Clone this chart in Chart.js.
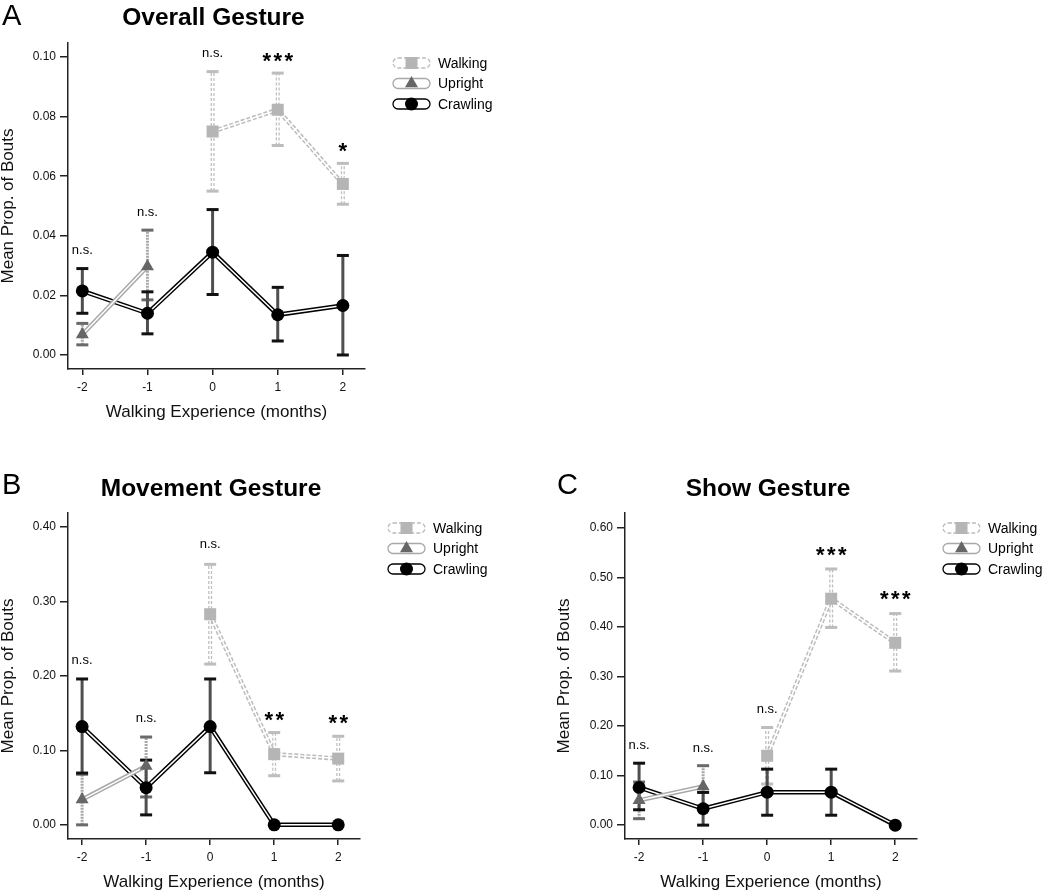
<!DOCTYPE html>
<html>
<head>
<meta charset="utf-8">
<script src="https://cdn.jsdelivr.net/npm/chart.js@4.4.1/dist/chart.umd.min.js"></script>
<style>
  html, body { margin: 0; padding: 0; background: #fff; }
  #page { position: relative; width: 1050px; height: 892px; overflow: hidden; background: #fff; }
  canvas { position: absolute; }
</style>
</head>
<body>
<div id="page">
  <canvas id="chartA" width="525" height="421" style="left:0;top:0"></canvas>
  <canvas id="chartB" width="525" height="431" style="left:0;top:460px"></canvas>
  <canvas id="chartC" width="494" height="431" style="left:556px;top:460px"></canvas>
</div>
<script>
const FONT = '"Liberation Sans", Arial, Helvetica, sans-serif';

// months of walking experience
const months = [-2, -1, 0, 1, 2];
const walkMonths = [0, 1, 2];
const uprightMonths = [-2, -1];
const xTicks = [-2, -1, 0, 1, 2];
const seriesNames = ['Walking', 'Upright', 'Crawling'];

// A: Overall Gesture
const overallWalking = [0.0750, 0.0823, 0.0574];
const overallWalkingLo = [0.0550, 0.0703, 0.0506];
const overallWalkingHi = [0.0951, 0.0946, 0.0643];
const overallUpright = [0.0069, 0.0297];
const overallUprightLo = [0.0034, 0.0185];
const overallUprightHi = [0.0106, 0.0419];
const overallCrawling = [0.0215, 0.0140, 0.0345, 0.0135, 0.0166];
const overallCrawlingLo = [0.0140, 0.0071, 0.0203, 0.0047, 0.0000];
const overallCrawlingHi = [0.0290, 0.0212, 0.0488, 0.0227, 0.0334];
const overallTicks = [0, 0.02, 0.04, 0.06, 0.08, 0.10];
const overallSig = ['n.s.', 'n.s.', 'n.s.', '***', '*'];
const overallSigY = [0.0352, 0.048, 0.1012, 0.1001, 0.0699];

// B: Movement Gesture
const movementWalking = [0.283, 0.095, 0.089];
const movementWalkingLo = [0.216, 0.066, 0.059];
const movementWalkingHi = [0.350, 0.124, 0.119];
const movementUpright = [0.034, 0.079];
const movementUprightLo = [0.000, 0.0375];
const movementUprightHi = [0.068, 0.118];
const movementCrawling = [0.132, 0.050, 0.132, 0.000, 0.000];
const movementCrawlingLo = [0.0696, 0.0134, 0.070, null, null];
const movementCrawlingHi = [0.196, 0.087, 0.196, null, null];
const movementTicks = [0, 0.10, 0.20, 0.30, 0.40];
const movementSig = ['n.s.', 'n.s.', 'n.s.', '**', '**'];
const movementSigY = [0.2215, 0.143, 0.3767, 0.1467, 0.142];

// C: Show Gesture
const showWalking = [0.140, 0.457, 0.368];
const showWalkingLo = [0.083, 0.399, 0.311];
const showWalkingHi = [0.197, 0.517, 0.427];
const showUpright = [0.050, 0.078];
const showUprightLo = [0.013, 0.038];
const showUprightHi = [0.087, 0.120];
const showCrawling = [0.076, 0.033, 0.0665, 0.0665, 0.000];
const showCrawlingLo = [0.031, 0.000, 0.020, 0.020, null];
const showCrawlingHi = [0.125, 0.066, 0.113, 0.113, null];
const showTicks = [0, 0.10, 0.20, 0.30, 0.40, 0.50, 0.60];
const showSig = ['n.s.', 'n.s.', 'n.s.', '***', '***'];
const showSigY = [0.1616, 0.155, 0.2337, 0.5535, 0.4646];

// look of each series
const styles = {
  Walking:  { marker: 'rect', radius: 8.5, fill: '#b5b5b5', line: '#bcbcbc', dash: [4, 2],
              stem: '#c0c0c0', stemDash: [3, 2], stemDouble: true, cap: '#bdbdbd' },
  Upright:  { marker: 'triangle', radius: 7.5, fill: '#666666', line: '#a8a8a8', dash: [],
              stem: '#a9a9a9', stemDash: [2, 1], stemDouble: false, cap: '#6a6a6a' },
  Crawling: { marker: 'circle', radius: 6.5, fill: '#000000', line: '#000000', dash: [],
              stem: '#4f4f4f', stemDash: [], stemDouble: false, cap: '#111111' }
};

function pts(xs, ys) {
  return xs.map((x, i) => ({ x: x, y: ys[i] }));
}

function drawErrorBars(chart, p) {
  const ctx = chart.ctx, xs = chart.scales.x, ys = chart.scales.y;
  ctx.save();
  p.series.forEach(s => {
    const st = styles[s.name];
    s.x.forEach((xv, i) => {
      if (s.lo[i] == null) return;
      const px = xs.getPixelForValue(xv);
      const yLo = ys.getPixelForValue(s.lo[i]);
      const yHi = ys.getPixelForValue(s.hi[i]);
      ctx.lineCap = 'butt';
      ctx.strokeStyle = st.stem;
      ctx.lineWidth = st.stemDouble ? 4 : 3;
      ctx.setLineDash(st.stemDash);
      ctx.beginPath(); ctx.moveTo(px, yLo); ctx.lineTo(px, yHi); ctx.stroke();
      if (st.stemDouble) {
        ctx.setLineDash([]);
        ctx.strokeStyle = '#ffffff';
        ctx.lineWidth = 1.4;
        ctx.beginPath(); ctx.moveTo(px, yLo); ctx.lineTo(px, yHi); ctx.stroke();
      }
      ctx.setLineDash([]);
      ctx.strokeStyle = st.cap;
      ctx.lineWidth = 3;
      [yLo, yHi].forEach(y => {
        ctx.beginPath(); ctx.moveTo(px - 6, y); ctx.lineTo(px + 6, y); ctx.stroke();
      });
    });
  });
  ctx.restore();
}

function drawSig(chart, p) {
  const ctx = chart.ctx, xs = chart.scales.x, ys = chart.scales.y;
  ctx.save();
  ctx.fillStyle = '#000';
  ctx.textAlign = 'center';
  ctx.textBaseline = 'middle';
  months.forEach((m, i) => {
    const label = p.sig[i];
    const px = xs.getPixelForValue(m);
    const py = ys.getPixelForValue(p.sigY[i]);
    if (label.charAt(0) === '*') {
      ctx.font = 'bold 22px ' + FONT;
      const n = label.length;
      for (let k = 0; k < n; k++) {
        ctx.fillText('*', px + (k - (n - 1) / 2) * 11, py + 5);
      }
    } else {
      ctx.font = '13px ' + FONT;
      ctx.fillText(label, px, py);
    }
  });
  ctx.restore();
}

function drawMarker(ctx, name, x, y) {
  const st = styles[name];
  Chart.helpers.drawPoint(ctx, { pointStyle: st.marker, radius: st.radius, borderWidth: 0, rotation: 0 }, x, y);
}

function drawLegend(chart, p) {
  const ctx = chart.ctx;
  ctx.save();
  seriesNames.forEach((name, i) => {
    const st = styles[name];
    const y = p.legendY + i * 20.5;
    const x0 = p.legendX;
    ctx.beginPath();
    ctx.roundRect(x0, y - 5, 37, 10, 5);
    ctx.lineWidth = 1.3;
    ctx.strokeStyle = st.line;
    ctx.setLineDash(st.dash);
    ctx.stroke();
    ctx.setLineDash([]);
    ctx.fillStyle = st.fill;
    ctx.strokeStyle = st.fill;
    drawMarker(ctx, name, x0 + 18.5, y);
    ctx.fillStyle = '#000';
    ctx.font = '14px ' + FONT;
    ctx.textAlign = 'left';
    ctx.textBaseline = 'middle';
    ctx.fillText(name, x0 + 45, y + 1);
  });
  ctx.restore();
}

function drawHeader(chart, p) {
  const ctx = chart.ctx, area = chart.chartArea;
  ctx.save();
  ctx.fillStyle = '#000';
  ctx.textBaseline = 'middle';
  ctx.textAlign = 'left';
  ctx.font = '29px ' + FONT;
  ctx.fillText(p.letter, p.letterX, p.letterY);
  ctx.textAlign = 'center';
  ctx.font = 'bold 24.5px ' + FONT;
  ctx.fillText(p.title, (area.left + area.right) / 2 - 3, p.titleY);
  ctx.restore();
}

function makePanel(p) {
  const datasets = [];
  const lineOrder = { Walking: 3, Upright: 5, Crawling: 7 };
  p.series.forEach((s, k) => {
    const st = styles[s.name];
    datasets.push({
      label: s.name, data: pts(s.x, s.y), showLine: false, order: k,
      pointStyle: st.marker, pointRadius: st.radius, pointBackgroundColor: st.fill,
      pointBorderColor: st.fill, pointBorderWidth: 0
    });
    datasets.push({
      label: s.name + ' inner', data: pts(s.x, s.y), order: lineOrder[s.name],
      borderColor: '#ffffff', borderWidth: 1.5, pointRadius: 0, tension: 0,
      borderJoinStyle: 'miter'
    });
    datasets.push({
      label: s.name + ' outline', data: pts(s.x, s.y), order: lineOrder[s.name] + 1,
      borderColor: st.line, borderWidth: 4.5, borderDash: st.dash, pointRadius: 0, tension: 0,
      borderJoinStyle: 'miter'
    });
  });

  const axisFont = { family: FONT, size: 12 };
  const titleFont = { family: FONT, size: 17, lineHeight: 1 };

  return new Chart(document.getElementById(p.canvas), {
    type: 'line',
    data: { datasets: datasets },
    options: {
      responsive: false,
      animation: false,
      events: [],
      layout: { padding: { left: 0, top: p.chartTop, right: p.rightPad, bottom: 0 } },
      plugins: { legend: { display: false }, tooltip: { enabled: false } },
      scales: {
        x: {
          type: 'linear', min: -2.22, max: 2.34,
          afterBuildTicks: s => { s.ticks = xTicks.map(v => ({ value: v })); },
          afterFit: s => { s.height = p.xAxisHeight; },
          grid: { drawOnChartArea: false, drawTicks: true, tickLength: 6, color: '#222', lineWidth: 1.5 },
          border: { display: true, color: '#222', width: 1.5 },
          ticks: { callback: v => String(v), font: axisFont, color: '#111', padding: 5, maxRotation: 0 },
          title: { display: true, text: 'Walking Experience (months)', font: titleFont, color: '#111', padding: 0 }
        },
        y: {
          type: 'linear', min: p.yMin, max: p.yMax,
          afterBuildTicks: s => { s.ticks = p.yTicks.map(v => ({ value: v })); },
          afterFit: s => { s.width = p.yAxisWidth; },
          grid: { drawOnChartArea: false, drawTicks: true, tickLength: 8, color: '#222', lineWidth: 1.5 },
          border: { display: true, color: '#222', width: 1.5 },
          ticks: { callback: v => v.toFixed(2), font: axisFont, color: '#111', padding: 4 },
          title: { display: true, text: 'Mean Prop. of Bouts', font: titleFont, color: '#111', padding: 0 }
        }
      }
    },
    plugins: [{
      id: 'panel' + p.letter,
      beforeDatasetsDraw(chart) { drawErrorBars(chart, p); },
      afterDatasetsDraw(chart) { drawSig(chart, p); },
      afterDraw(chart) { drawHeader(chart, p); drawLegend(chart, p); }
    }]
  });
}

makePanel({
  canvas: 'chartA', letter: 'A', title: 'Overall Gesture',
  series: [
    { name: 'Walking', x: walkMonths, y: overallWalking, lo: overallWalkingLo, hi: overallWalkingHi },
    { name: 'Upright', x: uprightMonths, y: overallUpright, lo: overallUprightLo, hi: overallUprightHi },
    { name: 'Crawling', x: months, y: overallCrawling, lo: overallCrawlingLo, hi: overallCrawlingHi }
  ],
  yMin: -0.0047, yMax: 0.1047, yTicks: overallTicks, sig: overallSig, sigY: overallSigY,
  chartTop: 43, rightPad: 160, yAxisWidth: 68, xAxisHeight: 52,
  legendX: 393, legendY: 63, letterX: 2, letterY: 17, titleY: 18
});

makePanel({
  canvas: 'chartB', letter: 'B', title: 'Movement Gesture',
  series: [
    { name: 'Walking', x: walkMonths, y: movementWalking, lo: movementWalkingLo, hi: movementWalkingHi },
    { name: 'Upright', x: uprightMonths, y: movementUpright, lo: movementUprightLo, hi: movementUprightHi },
    { name: 'Crawling', x: months, y: movementCrawling, lo: movementCrawlingLo, hi: movementCrawlingHi }
  ],
  yMin: -0.019, yMax: 0.419, yTicks: movementTicks, sig: movementSig, sigY: movementSigY,
  chartTop: 53, rightPad: 165, yAxisWidth: 68, xAxisHeight: 52,
  legendX: 388, legendY: 68, letterX: 2, letterY: 26, titleY: 29
});

makePanel({
  canvas: 'chartC', letter: 'C', title: 'Show Gesture',
  series: [
    { name: 'Walking', x: walkMonths, y: showWalking, lo: showWalkingLo, hi: showWalkingHi },
    { name: 'Upright', x: uprightMonths, y: showUpright, lo: showUprightLo, hi: showUprightHi },
    { name: 'Crawling', x: months, y: showCrawling, lo: showCrawlingLo, hi: showCrawlingHi }
  ],
  yMin: -0.028, yMax: 0.630, yTicks: showTicks, sig: showSig, sigY: showSigY,
  chartTop: 53, rightPad: 133, yAxisWidth: 69, xAxisHeight: 52,
  legendX: 387, legendY: 68, letterX: 1, letterY: 26, titleY: 29
});
</script>
</body>
</html>
